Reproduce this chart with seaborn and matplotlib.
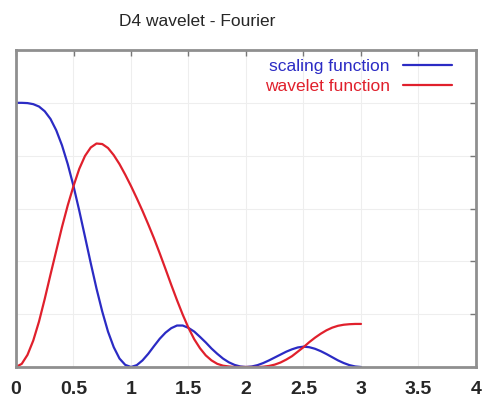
import matplotlib
matplotlib.use("Agg")
import matplotlib.pyplot as plt
import seaborn as sns
import pandas as pd

# frequency axis samples
freq = [0.00, 0.05, 0.10, 0.15, 0.20, 0.25, 0.30, 0.35, 0.40, 0.45,
        0.50, 0.55, 0.60, 0.65, 0.70, 0.75, 0.80, 0.85, 0.90, 0.95,
        1.00, 1.05, 1.10, 1.15, 1.20, 1.25, 1.30, 1.35, 1.40, 1.45,
        1.50, 1.55, 1.60, 1.65, 1.70, 1.75, 1.80, 1.85, 1.90, 1.95,
        2.00, 2.05, 2.10, 2.15, 2.20, 2.25, 2.30, 2.35, 2.40, 2.45,
        2.50, 2.55, 2.60, 2.65, 2.70, 2.75, 2.80, 2.85, 2.90, 2.95,
        3.00]

scaling = [1.000, 1.000, 0.999, 0.995, 0.986, 0.968, 0.939, 0.896, 0.839, 0.768,
           0.685, 0.592, 0.493, 0.393, 0.297, 0.210, 0.134, 0.075, 0.032, 0.008,
           0.000, 0.007, 0.025, 0.050, 0.079, 0.107, 0.130, 0.147, 0.157, 0.157,
           0.148, 0.134, 0.114, 0.093, 0.070, 0.050, 0.032, 0.018, 0.008, 0.002,
           0.000, 0.002, 0.007, 0.015, 0.025, 0.036, 0.047, 0.058, 0.067, 0.074,
           0.077, 0.075, 0.069, 0.060, 0.049, 0.037, 0.025, 0.015, 0.007, 0.002,
           0.000]

wavelet = [0.000, 0.012, 0.046, 0.100, 0.172, 0.258, 0.350, 0.440, 0.530, 0.612,
           0.685, 0.750, 0.799, 0.831, 0.846, 0.844, 0.829, 0.802, 0.768, 0.728,
           0.685, 0.639, 0.591, 0.540, 0.487, 0.430, 0.371, 0.311, 0.253, 0.198,
           0.148, 0.105, 0.071, 0.044, 0.025, 0.012, 0.005, 0.002, 0.000, 0.000,
           0.000, 0.000, 0.000, 0.001, 0.004, 0.009, 0.017, 0.028, 0.041, 0.058,
           0.075, 0.094, 0.111, 0.126, 0.139, 0.149, 0.156, 0.160, 0.162, 0.163,
           0.163]

labels = ['scaling function', 'wavelet function']
colors = ['#2b2bc4', '#e0202c']

xticks = [0, 0.5, 1, 1.5, 2, 2.5, 3, 3.5, 4]
xtick_labels = ['0', '0.5', '1', '1.5', '2', '2.5', '3', '3.5', '4']
yticks = [0, 0.2, 0.4, 0.6, 0.8, 1.0, 1.2]

df = pd.DataFrame({
    'freq': freq + freq,
    'valor': scaling + wavelet,
    'curva': [labels[0]] * len(freq) + [labels[1]] * len(freq),
})

sns.set_style('white')
plt.rcParams['font.family'] = ['Liberation Sans', 'DejaVu Sans']

fig = plt.figure(figsize=(4.85, 3.98), dpi=100)
ax = fig.add_axes([16 / 485, 1 - 367 / 398, 460 / 485, 317 / 398])

sns.lineplot(data=df, x='freq', y='valor', hue='curva', palette=colors,
             linewidth=1.6, ax=ax, legend=True)

ax.set_xlim(0, 4)
ax.set_ylim(0, 1.2)
ax.set_xticks(xticks)
ax.set_xticklabels(xtick_labels, fontsize=14, fontweight='bold')
ax.set_yticks(yticks)
ax.set_yticklabels([])
ax.set_xlabel('')
ax.set_ylabel('')
ax.grid(True, color='#eeeeee', linewidth=0.8)
ax.tick_params(direction='in', top=True, right=True, length=4, width=1,
               color='#777777', pad=10)
for s in ax.spines.values():
    s.set_color('#8f8f8f')
    s.set_linewidth(2)

leg = ax.legend(loc='upper right', bbox_to_anchor=(0.948, 0.972), frameon=False,
                markerfirst=False, labelcolor='linecolor', fontsize=12.5,
                handlelength=2.8, handletextpad=0.8, labelspacing=0.3,
                borderpad=0, borderaxespad=0)

fig.text(197 / 485, 1 - 21 / 398, 'D4 wavelet - Fourier', ha='center', va='center',
         fontsize=12.5)

fig.savefig('out.png', dpi=100)
